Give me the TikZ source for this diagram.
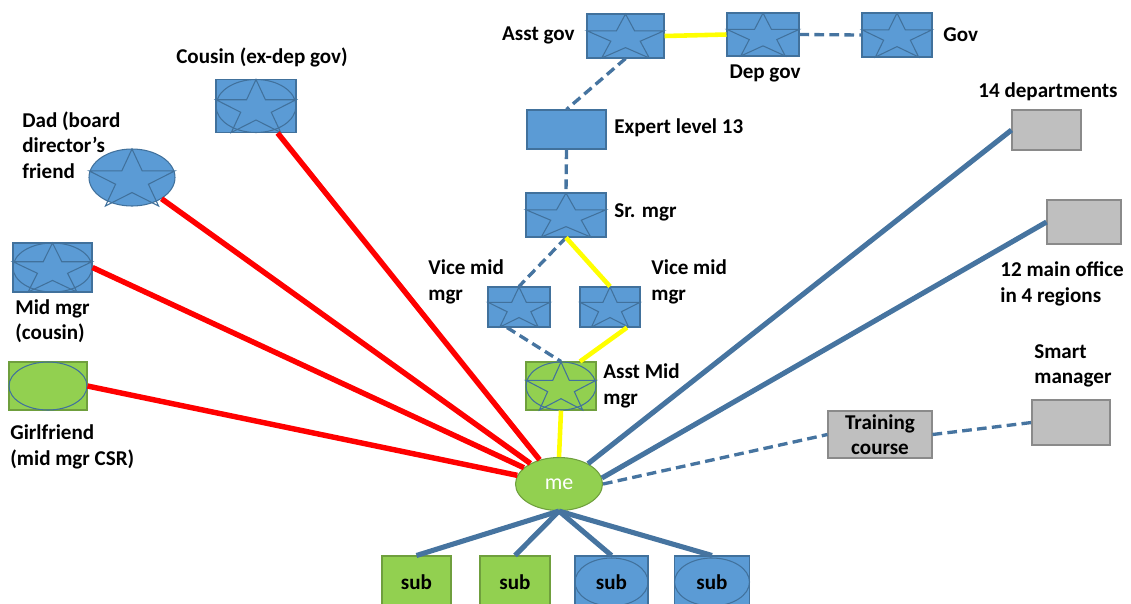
\documentclass[tikz,border=0pt]{standalone}
\usepackage{fontspec}
\setmainfont{Carlito}
\usetikzlibrary{shapes.geometric, positioning}
\definecolor{shblue}{HTML}{5B9BD5}
\definecolor{shline}{HTML}{41719C}
\definecolor{shgreen}{HTML}{92D050}
\definecolor{grline}{HTML}{6F9F3D}
\definecolor{shgray}{HTML}{BFBFBF}
\definecolor{gyline}{HTML}{8A8A8A}
\definecolor{tiered}{HTML}{FF0000}
\definecolor{tieyel}{HTML}{FFFF00}
\definecolor{tieblue}{HTML}{4674A0}

\newcommand{\lblfont}{\fontsize{12}{14.5}\selectfont\bfseries}
% star drawn inside a box: node, half width, half height
\newcommand{\boxstar}[3]{%
  \begin{scope}[shift={(#1.center)}, xscale=#2, yscale=-#3]
    \draw[starline] (0,1) -- (0.236,0.236) -- (1,0.236) -- (0.382,-0.236)
      -- (0.618,-1) -- (0,-0.528) -- (-0.618,-1) -- (-0.382,-0.236)
      -- (-1,0.236) -- (-0.236,0.236) -- cycle;
  \end{scope}}
\newcommand{\boxoval}[3]{\draw[starline] (#1.center) ellipse [x radius=#2, y radius=#3];}

\begin{document}
\begin{tikzpicture}[
  x=0.02cm, y=-0.02cm,
  sz/.style 2 args={minimum width=#1*0.02cm, minimum height=#2*0.02cm},
  bluebox/.style={draw=shline, fill=shblue, line width=0.6pt, inner sep=0pt},
  greenbox/.style={draw=grline, fill=shgreen, line width=0.6pt, inner sep=0pt},
  graybox/.style={draw=gyline, fill=shgray, line width=0.6pt, inner sep=0pt},
  starline/.style={draw=shline, line width=0.6pt},
  lbl/.style={font=\lblfont, align=left, inner sep=0pt},
  redtie/.style={tiered, line width=3.1pt},
  yeltie/.style={tieyel, line width=2.6pt},
  bluetie/.style={tieblue, line width=2.9pt},
  dashtie/.style={tieblue, line width=1.9pt, dash pattern=on 5.5pt off 3pt},
]
\useasboundingbox (0,0) rectangle (1131,603);

% === Top chain ===
\node[bluebox, sz={77}{44}] (agov) at (625.5,36) {};
\node[bluebox, sz={72}{43}] (dgov) at (763,34.5) {};
\node[bluebox, sz={70}{44}] (gov) at (897,35) {};
\boxstar{agov}{38.5}{22}
\boxstar{dgov}{36}{21.5}
\boxstar{gov}{35}{22}
\node[lbl, anchor=east] (agovtxt) at (575,35) {Asst gov};
\node[lbl] (dgovtxt) at (765,73) {Dep gov};
\node[lbl, anchor=west] (govtxt) at (943,35) {Gov};

\node[bluebox, sz={79}{39}] (expert) at (566.5,129.5) {};
\node[lbl, anchor=west] (experttxt) at (614,128) {Expert level 13};

\node[bluebox, sz={80}{44}] (srmgr) at (566,215) {};
\boxstar{srmgr}{40}{22}
\node[lbl, anchor=west] (srmgrtxt) at (614,212) {Sr. mgr};

% === Vice mid managers ===
\node[bluebox, sz={62}{40}] (vicel) at (519,307) {};
\node[bluebox, sz={60}{40}] (vicer) at (610,307) {};
\boxstar{vicel}{31}{20}
\boxstar{vicer}{30}{20}
\node[lbl, anchor=west] (viceltxt) at (428,282) {Vice mid\\mgr};
\node[lbl, anchor=west] (vicertxt) at (651,282) {Vice mid\\mgr};

\node[greenbox, sz={70}{48}] (amid) at (561,386) {};
\boxoval{amid}{35}{24}
\boxstar{amid}{35}{24}
\node[lbl, anchor=west] (amidtxt) at (603,386) {Asst Mid\\mgr};

% === Me ===
\node[ellipse, draw=grline, fill=shgreen, line width=0.6pt, inner sep=0pt,
  sz={87}{53}, text=white, font=\fontsize{12.5}{14}\selectfont] (me) at (559,484) {me};

% === Relatives on the left ===
\node[bluebox, sz={80}{53}] (cousin) at (256,106) {};
\boxoval{cousin}{40}{26.5}
\boxstar{cousin}{40}{26.5}
\node[lbl] (cousintxt) at (262,57) {Cousin (ex-dep gov)};

\node[ellipse, bluebox, sz={86}{57}] (dad) at (132,177.5) {};
\boxstar{dad}{43}{28.5}
\node[lbl, anchor=west] (dadtxt) at (22,145) {Dad (board\\director’s\\friend};

\node[bluebox, sz={79}{49}] (midmgr) at (52.5,267.5) {};
\boxoval{midmgr}{39.5}{24.5}
\boxstar{midmgr}{39.5}{24.5}
\node[lbl, anchor=west] (midmgrtxt) at (15,321) {Mid mgr\\(cousin)};

\node[greenbox, sz={78}{48}] (gf) at (48,386) {};
\boxoval{gf}{39}{24}
\node[lbl, anchor=west] (gftxt) at (10,447) {Girlfriend\\(mid mgr CSR)};

% === Offices on the right ===
\node[graybox, sz={69}{40}] (dept) at (1046.5,130) {};
\node[lbl] (depttxt) at (1048,92) {14 departments};
\node[graybox, sz={74}{44}] (mainoff) at (1084,222) {};
\node[lbl, anchor=west] (mainofftxt) at (1000,284) {12 main office\\in 4 regions};
\node[graybox, sz={78}{45}] (smart) at (1071,422.5) {};
\node[lbl, anchor=west] (smarttxt) at (1034,366) {Smart\\manager};
\node[graybox, sz={104}{47}, font=\lblfont, align=center] (training) at (880,434.5) {Training\\course};

% === Subordinates ===
\node[greenbox, sz={69}{52}, font=\lblfont] (sub1) at (416.5,582) {sub};
\node[greenbox, sz={70}{52}, font=\lblfont] (sub2) at (515,582) {sub};
\node[bluebox, sz={73}{52}] (sub3) at (611.5,582) {};
\node[bluebox, sz={75}{52}] (sub4) at (712,582) {};
\boxoval{sub3}{36.5}{24}
\boxoval{sub4}{37.5}{24}
\node[font=\lblfont] (sub3txt) at (sub3) {sub};
\node[font=\lblfont] (sub4txt) at (sub4) {sub};

% === Connectors ===
\draw[yeltie] (agov.east) -- (dgov.west);
\draw[dashtie] (dgov.east) -- (gov.west);
\draw[dashtie] (agov.south) -- (expert.north);
\draw[dashtie] (expert.south) -- (srmgr.north);
\draw[dashtie] (srmgr.south) -- (vicel.north);
\draw[yeltie] (srmgr.south) -- (vicer.north);
\draw[dashtie] ([xshift=-0.24cm]vicel.south) -- (amid.north);
\draw[yeltie] ([xshift=0.34cm]vicer.south) -- ([xshift=0.38cm]amid.north);
\draw[yeltie] (amid.south) -- (me.north);

\draw[redtie] (cousin) -- (me);
\draw[redtie] (dad) -- (me);
\draw[redtie] (midmgr.east) -- (me);
\draw[redtie] (gf.east) -- (me);

\draw[bluetie] (me.35) -- (dept.west);
\draw[bluetie] (me.8) -- (mainoff.west);
\draw[dashtie] (me.east) -- (training.west);
\draw[dashtie] (training.east) -- (smart.west);

\draw[bluetie] (me.south) -- (sub1.north);
\draw[bluetie] (me.south) -- (sub2.north);
\draw[bluetie] (me.south) -- (sub3.north);
\draw[bluetie] (me.south) -- (sub4.north);

\end{tikzpicture}
\end{document}
